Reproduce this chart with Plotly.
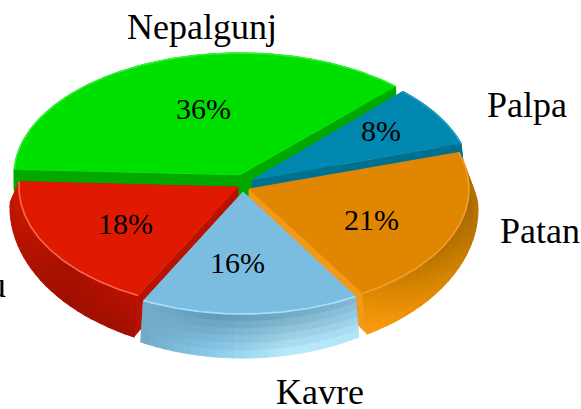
import math
import plotly.graph_objects as go

# ---- data (clockwise from the Palpa / Nepalgunj boundary)
categories = ["Palpa", "Patan", "Kavre", "Kathmandu", "Nepalgunj"]
shares = [8, 21, 16, 18, 36]
share_labels = ["8%", "21%", "16%", "18%", "36%"]

# ---- geometry (pixels)
W, H = 581, 409
START_ANGLE = 46.5
centers = {"Nepalgunj": (240, 175), "Palpa": (252, 180), "Patan": (249, 189), "Kavre": (243, 192), "Kathmandu": (238, 187)}
radii_x = {"Nepalgunj": 226, "Palpa": 219, "Patan": 220, "Kavre": 218, "Kathmandu": 219}
wall_flare = {"Nepalgunj": 0, "Palpa": 3, "Patan": 9, "Kavre": 6, "Kathmandu": 9}
RY = 122
draw_order = ["Nepalgunj", "Palpa", "Patan", "Kathmandu", "Kavre"]

# ---- styles
top_color = {"Nepalgunj": "#00e000", "Palpa": "#0088b0", "Patan": "#e18600", "Kavre": "#7abde0", "Kathmandu": "#e01a00"}
side_color = {"Nepalgunj": "#00a800", "Palpa": "#00708f", "Patan": "#f09a18", "Kavre": "#86c8e8", "Kathmandu": "#b81200"}
rim_color = {"Nepalgunj": "#30f030", "Palpa": "#20a0c4", "Patan": "#f0a030", "Kavre": "#a8e0fa", "Kathmandu": "#f56a50"}
wall_top = {"Nepalgunj": ["#00a800", "#00a800"], "Palpa": ["#00708f", "#00708f"],
            "Patan": ["#a86a00", "#a86a00", "#b87400", "#e08a00"],
            "Kavre": ["#80b4cf", "#6ca4c0", "#5f98b6", "#74aecb"],
            "Kathmandu": ["#c01200", "#a81000", "#c01600", "#d81c04"]}
wall_bot = {"Nepalgunj": ["#00a800", "#00a800"], "Palpa": ["#00708f", "#00708f"],
            "Patan": ["#c07c08", "#b87400", "#e08a00", "#ff9c10"],
            "Kavre": ["#b8eaff", "#c0f0ff", "#8fd0f0", "#6fa9c6"],
            "Kathmandu": ["#a01000", "#a01000", "#b01200", "#c01600"]}
FONT = "Liberation Serif"

label_xy = {"Nepalgunj": (202, 27), "Palpa": (527, 105), "Patan": (540, 231), "Kavre": (320, 392)}
share_xy = {"Nepalgunj": (203, 108), "Palpa": (381, 130), "Patan": (371, 219), "Kavre": (237, 262), "Kathmandu": (125, 223)}


def hex2rgb(c):
    return [int(c[i:i + 2], 16) for i in (1, 3, 5)]


def mix(a, b, t):
    return [a[i] + (b[i] - a[i]) * t for i in range(3)]


def ramp(stops, t):
    p = t * (len(stops) - 1)
    i = min(int(p), len(stops) - 2)
    return mix(hex2rgb(stops[i]), hex2rgb(stops[i + 1]), p - i)


def top_pt(c, rx, a):
    return c[0] + rx * math.cos(a), c[1] - RY * math.sin(a)


def bot_pt(c, rx, a, flare):
    d = 20 + 22 * abs(math.sin(a))
    return c[0] + (rx + flare) * math.cos(a), c[1] - (RY + 2) * math.sin(a) + d


def poly(fig, pts, color, lw=1.1):
    fig.add_trace(go.Scatter(x=[p[0] for p in pts] + [pts[0][0]], y=[p[1] for p in pts] + [pts[0][1]],
                             mode="lines", fill="toself", fillcolor=color,
                             line=dict(color=color, width=lw), hoverinfo="skip", showlegend=False))


fig = go.Figure()

# angular spans of each slice, from the shares
total = sum(shares)
spans = {}
ang = START_ANGLE
for cat, val in zip(categories, shares):
    end = ang - 360 * val / total
    spans[cat] = (math.radians(ang), math.radians(end))
    ang = end

for cat in draw_order:
    a0, a1 = spans[cat]
    c, rx = centers[cat], radii_x[cat]
    fl = wall_flare[cat]
    # cut faces
    for a in (a0, a1):
        p = top_pt(c, rx, a)
        q = bot_pt(c, rx, a, fl)
        poly(fig, [c, p, q, (c[0], c[1] + 30)], side_color[cat], 0.5)
    # outer wall, shaded
    n, m = 26, 6
    for i in range(n):
        t0, t1 = i / n, (i + 1) / n
        b0, b1 = a0 + (a1 - a0) * t0, a0 + (a1 - a0) * t1
        for j in range(m):
            s0, s1 = j / m, (j + 1) / m
            tm, sm = (t0 + t1) / 2, (s0 + s1) / 2
            col = mix(ramp(wall_top[cat], tm), ramp(wall_bot[cat], tm), sm)
            pts = []
            for b, s in ((b0, s0), (b1, s0), (b1, s1), (b0, s1)):
                u, v = top_pt(c, rx, b), bot_pt(c, rx, b, fl)
                pts.append((u[0] + (v[0] - u[0]) * s, u[1] + (v[1] - u[1]) * s))
            poly(fig, pts, "rgb(%d,%d,%d)" % tuple(col))
    # top face
    arc = [top_pt(c, rx, a0 + (a1 - a0) * k / 80) for k in range(81)]
    poly(fig, [c] + arc, top_color[cat], 0.5)
    # lit rim along the arc
    fig.add_trace(go.Scatter(x=[p[0] for p in arc], y=[p[1] for p in arc], mode="lines",
                             line=dict(color=rim_color[cat], width=1.6), hoverinfo="skip", showlegend=False))

anns = []
for cat, txt in zip(categories, share_labels):
    x, y = share_xy[cat]
    anns.append(dict(x=x, y=y, text=txt, showarrow=False, xref="x", yref="y",
                     font=dict(family=FONT, size=30, color="#000000")))
for cat in categories:
    if cat in label_xy:
        x, y = label_xy[cat]
        anns.append(dict(x=x, y=y, text=cat, showarrow=False, xref="x", yref="y",
                         font=dict(family=FONT, size=36, color="#000000")))
anns.append(dict(x=8, y=285, text="Kathmandu", xanchor="right", showarrow=False, xref="x", yref="y",
                 font=dict(family=FONT, size=36, color="#000000")))

fig.update_layout(width=W, height=H, margin=dict(l=0, r=0, t=0, b=0), paper_bgcolor="white", plot_bgcolor="white",
                  xaxis=dict(range=[0, W], visible=False, fixedrange=True),
                  yaxis=dict(range=[H, 0], visible=False, fixedrange=True),
                  annotations=anns, showlegend=False)
fig.write_html("out.html", config=dict(displayModeBar=False),
               post_script="document.body.style.margin='0';document.body.style.overflow='hidden';")
